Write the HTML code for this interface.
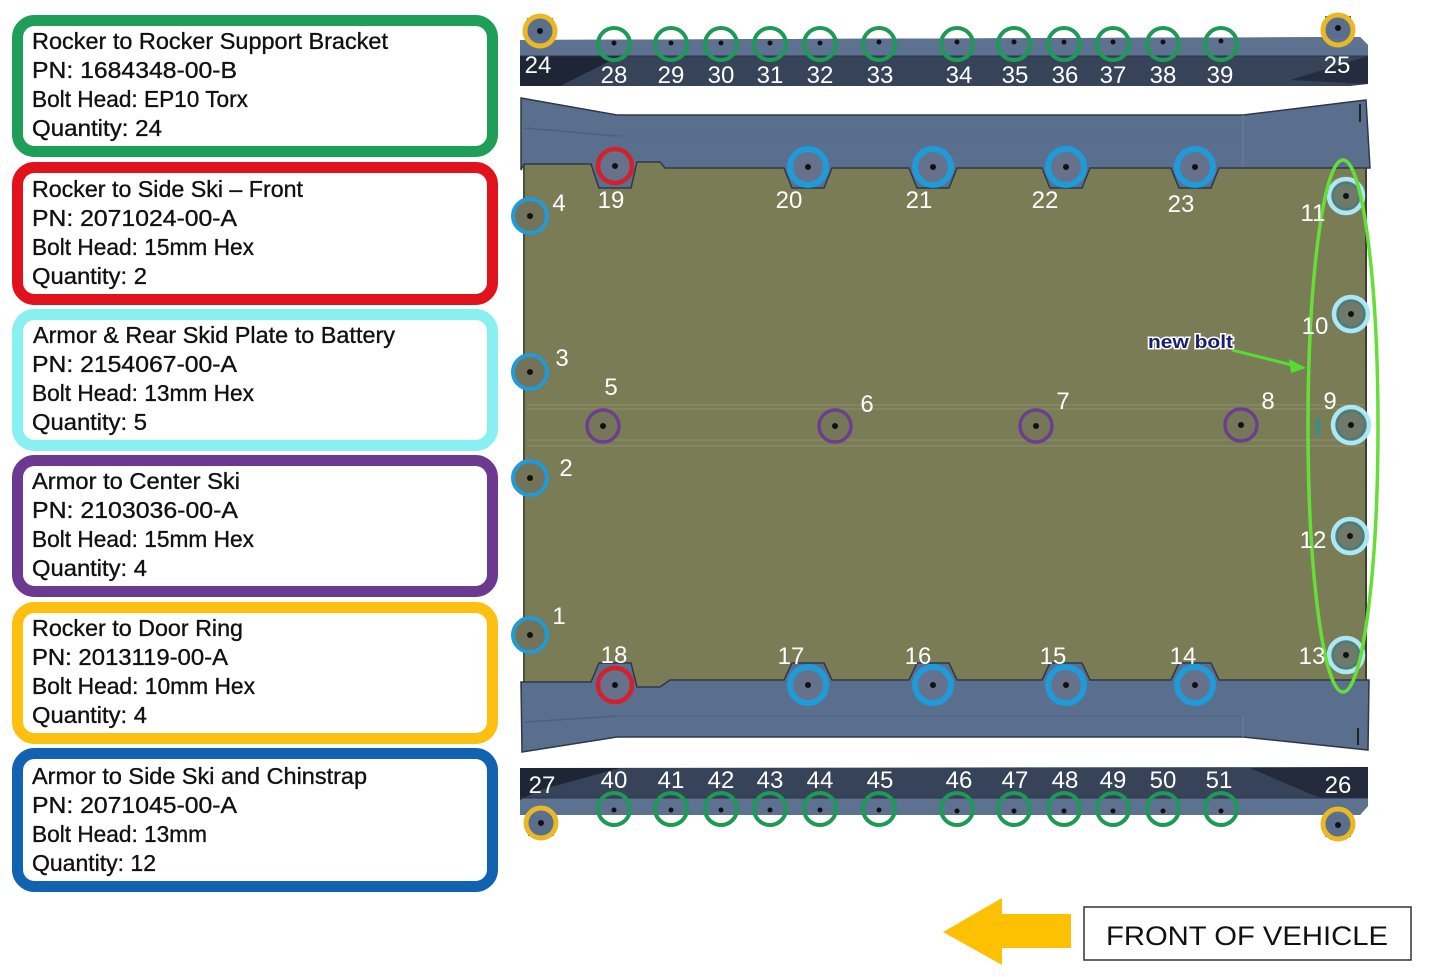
<!DOCTYPE html>
<html><head><meta charset="utf-8">
<style>
html,body{margin:0;padding:0;background:#fff;}
svg{display:block;}
.lg{font-family:"Liberation Sans",Arial,sans-serif;font-size:23px;fill:#111;stroke:#111;stroke-width:0.35;}
.n{font-family:"Liberation Sans",Arial,sans-serif;font-size:24px;fill:#fff;text-anchor:middle;}
</style></head>
<body>
<svg width="1444" height="977" viewBox="0 0 1444 977" xmlns="http://www.w3.org/2000/svg">
<rect width="1444" height="977" fill="#fff"/>

<!-- Legend boxes -->
<g fill="#fff" stroke-width="11">
<rect x="17.5" y="20.5" width="475" height="131" rx="17" stroke="#1f9e58"/>
<rect x="17.5" y="167.5" width="475" height="132" rx="17" stroke="#e0131c"/>
<rect x="17.5" y="314.5" width="475" height="131" rx="17" stroke="#88f0f0"/>
<rect x="17.5" y="460.5" width="475" height="131" rx="17" stroke="#6b3a90"/>
<rect x="17.5" y="607.5" width="475" height="131" rx="17" stroke="#fdc010"/>
<rect x="17.5" y="753.5" width="475" height="133" rx="17" stroke="#1262b2"/>
</g>
<g class="lg">
<text x="32" y="49" textLength="356" lengthAdjust="spacingAndGlyphs">Rocker to Rocker Support Bracket</text>
<text x="32" y="78" textLength="205" lengthAdjust="spacingAndGlyphs">PN: 1684348-00-B</text>
<text x="32" y="107" textLength="216" lengthAdjust="spacingAndGlyphs">Bolt Head: EP10 Torx</text>
<text x="32" y="136" textLength="130" lengthAdjust="spacingAndGlyphs">Quantity: 24</text>

<text x="32" y="197" textLength="271" lengthAdjust="spacingAndGlyphs">Rocker to Side Ski – Front</text>
<text x="32" y="226" textLength="205" lengthAdjust="spacingAndGlyphs">PN: 2071024-00-A</text>
<text x="32" y="255" textLength="222" lengthAdjust="spacingAndGlyphs">Bolt Head: 15mm Hex</text>
<text x="32" y="284" textLength="115" lengthAdjust="spacingAndGlyphs">Quantity: 2</text>

<text x="33" y="343" textLength="362" lengthAdjust="spacingAndGlyphs">Armor &amp; Rear Skid Plate to Battery</text>
<text x="32" y="372" textLength="205" lengthAdjust="spacingAndGlyphs">PN: 2154067-00-A</text>
<text x="32" y="401" textLength="222" lengthAdjust="spacingAndGlyphs">Bolt Head: 13mm Hex</text>
<text x="32" y="430" textLength="115" lengthAdjust="spacingAndGlyphs">Quantity: 5</text>

<text x="32" y="489" textLength="208" lengthAdjust="spacingAndGlyphs">Armor to Center Ski</text>
<text x="32" y="518" textLength="206" lengthAdjust="spacingAndGlyphs">PN: 2103036-00-A</text>
<text x="32" y="547" textLength="222" lengthAdjust="spacingAndGlyphs">Bolt Head: 15mm Hex</text>
<text x="32" y="576" textLength="115" lengthAdjust="spacingAndGlyphs">Quantity: 4</text>

<text x="32" y="636" textLength="211" lengthAdjust="spacingAndGlyphs">Rocker to Door Ring</text>
<text x="32" y="665" textLength="196" lengthAdjust="spacingAndGlyphs">PN: 2013119-00-A</text>
<text x="32" y="694" textLength="223" lengthAdjust="spacingAndGlyphs">Bolt Head: 10mm Hex</text>
<text x="32" y="723" textLength="115" lengthAdjust="spacingAndGlyphs">Quantity: 4</text>

<text x="32" y="784" textLength="335" lengthAdjust="spacingAndGlyphs">Armor to Side Ski and Chinstrap</text>
<text x="32" y="813" textLength="205" lengthAdjust="spacingAndGlyphs">PN: 2071045-00-A</text>
<text x="32" y="842" textLength="175" lengthAdjust="spacingAndGlyphs">Bolt Head: 13mm</text>
<text x="32" y="871" textLength="124" lengthAdjust="spacingAndGlyphs">Quantity: 12</text>
</g>

<!-- Top rail -->
<rect x="527" y="18" width="26" height="26" fill="#5a6e8e"/>
<rect x="1325" y="16" width="26" height="26" fill="#5a6e8e"/>
<polygon points="520,40 1360,37 1368,45 1368,84 1350,86 520,86" fill="#364359"/>
<polygon points="520,40 1360,37 1368,45 1368,56 520,56" fill="#5d7190"/>
<polygon points="520,56 620,56 560,86 520,86" fill="#1e2636"/>
<polygon points="1368,56 1290,80 1368,84" fill="#242d40"/>
<line x1="520" y1="56" x2="1368" y2="56" stroke="#2b3447" stroke-width="1"/>

<!-- Bottom rail -->
<rect x="528" y="810" width="26" height="26" fill="#5a6e8e"/>
<rect x="1325" y="811" width="26" height="26" fill="#5a6e8e"/>
<polygon points="520,768 1368,767 1368,806 1360,815 520,815" fill="#364359"/>
<polygon points="520,798 1368,798 1368,806 1360,815 520,815" fill="#5d7190"/>
<polygon points="520,768 620,768 540,790 520,800" fill="#1e2636"/>
<polygon points="1250,768 1368,767 1368,798 1320,798" fill="#222a3c"/>
<line x1="520" y1="798" x2="1368" y2="798" stroke="#2b3447" stroke-width="1"/>

<!-- Main plate -->
<rect x="524" y="160" width="843" height="530" fill="#7a7c55"/>
<line x1="524" y1="160" x2="524" y2="690" stroke="#4e5038" stroke-width="2"/>
<line x1="1366" y1="160" x2="1366" y2="690" stroke="#3e4030" stroke-width="2"/>
<g stroke="#8a8c66" stroke-width="1.2" fill="none">
<line x1="527" y1="405" x2="1364" y2="405"/><line x1="527" y1="409" x2="1364" y2="409"/>
<line x1="527" y1="440" x2="1364" y2="440"/><line x1="527" y1="446" x2="1364" y2="446"/>
</g>
<!-- Top blue rocker -->
<path d="M521,98 L617,115 L1243,115 L1366,100 L1370,168
 L1219,168 L1211,188 L1179,188 L1171,168
 L1090,168 L1082,188 L1050,188 L1042,168
 L957,168 L949,188 L917,188 L909,168
 L832,168 L824,188 L792,188 L784,168
 L665,168 L660,162 L637,162 L631,188 L599,188 L591,164 L524,164 L521,170 Z" fill="#5a6e8e" stroke="#2e3848" stroke-width="1.5"/>
<line x1="525" y1="128" x2="617" y2="136" stroke="#4c5f7e" stroke-width="1.5"/>
<line x1="617" y1="136" x2="1243" y2="136" stroke="#52658a" stroke-width="1"/>
<line x1="1243" y1="115" x2="1243" y2="166" stroke="#6d80a0" stroke-width="1"/>
<line x1="1360" y1="104" x2="1360" y2="122" stroke="#222" stroke-width="2"/>
<!-- Bottom blue rocker -->
<path d="M521,682 L591,682 L599,663 L631,663 L637,687 L660,687 L670,680
 L784,680 L792,663 L824,663 L832,680
 L909,680 L917,663 L949,663 L957,680
 L1042,680 L1050,663 L1082,663 L1090,680
 L1171,680 L1179,663 L1211,663 L1219,680
 L1369,680 L1368,750 L1243,737 L617,737 L522,752 Z" fill="#5a6e8e" stroke="#2e3848" stroke-width="1.5"/>
<line x1="525" y1="722" x2="617" y2="716" stroke="#4c5f7e" stroke-width="1.5"/>
<line x1="617" y1="716" x2="1243" y2="716" stroke="#52658a" stroke-width="1"/>
<line x1="1243" y1="716" x2="1243" y2="737" stroke="#6d80a0" stroke-width="1"/>
<line x1="1358" y1="728" x2="1358" y2="745" stroke="#222" stroke-width="2"/>

<!-- Yellow rocker-to-door-ring circles -->
<g fill="none" stroke="#eab822" stroke-width="5">
<circle cx="540" cy="31" r="15"/><circle cx="1338" cy="30" r="15"/>
<circle cx="541" cy="823" r="15"/><circle cx="1338" cy="824" r="15"/>
</g>
<g fill="#111"><circle cx="540" cy="31" r="3"/><circle cx="1338" cy="28" r="3"/><circle cx="541" cy="823" r="3"/><circle cx="1338" cy="825" r="3"/></g>

<!-- Green rail circles -->
<g fill="none" stroke="#1d9a55" stroke-width="4">
<circle cx="614" cy="44" r="16"/><circle cx="671" cy="44" r="16"/><circle cx="721" cy="44" r="16"/><circle cx="770" cy="44" r="16"/><circle cx="820" cy="44" r="16"/><circle cx="879" cy="44" r="16"/>
<circle cx="957" cy="44" r="16"/><circle cx="1014" cy="44" r="16"/><circle cx="1064" cy="44" r="16"/><circle cx="1113" cy="44" r="16"/><circle cx="1163" cy="44" r="16"/><circle cx="1221" cy="44" r="16"/>
<circle cx="614" cy="809" r="16"/><circle cx="671" cy="809" r="16"/><circle cx="721" cy="809" r="16"/><circle cx="770" cy="809" r="16"/><circle cx="820" cy="809" r="16"/><circle cx="879" cy="809" r="16"/>
<circle cx="957" cy="809" r="16"/><circle cx="1014" cy="809" r="16"/><circle cx="1064" cy="809" r="16"/><circle cx="1113" cy="809" r="16"/><circle cx="1163" cy="809" r="16"/><circle cx="1221" cy="809" r="16"/>
</g>
<g fill="#111">
<circle cx="614" cy="43" r="2.5"/><circle cx="671" cy="43" r="2.5"/><circle cx="721" cy="43" r="2.5"/><circle cx="770" cy="43" r="2.5"/><circle cx="820" cy="43" r="2.5"/><circle cx="879" cy="42" r="2.5"/>
<circle cx="957" cy="42" r="2.5"/><circle cx="1014" cy="42" r="2.5"/><circle cx="1064" cy="42" r="2.5"/><circle cx="1113" cy="42" r="2.5"/><circle cx="1163" cy="42" r="2.5"/><circle cx="1221" cy="41" r="2.5"/>
<circle cx="614" cy="810" r="2.5"/><circle cx="671" cy="810" r="2.5"/><circle cx="721" cy="810" r="2.5"/><circle cx="770" cy="810" r="2.5"/><circle cx="820" cy="810" r="2.5"/><circle cx="879" cy="810" r="2.5"/>
<circle cx="957" cy="811" r="2.5"/><circle cx="1014" cy="811" r="2.5"/><circle cx="1064" cy="811" r="2.5"/><circle cx="1113" cy="811" r="2.5"/><circle cx="1163" cy="811" r="2.5"/><circle cx="1221" cy="811" r="2.5"/>
</g>

<!-- Blue bolts (top/bottom) -->
<g fill="#66728c" stroke="#1e9bd8" stroke-width="6">
<circle cx="808" cy="167" r="18"/><circle cx="933" cy="167" r="18"/><circle cx="1066" cy="167" r="18"/><circle cx="1195" cy="167" r="18"/>
<circle cx="808" cy="685" r="18"/><circle cx="933" cy="685" r="18"/><circle cx="1066" cy="685" r="18"/><circle cx="1195" cy="685" r="18"/>
</g>
<!-- Left blue bolts -->
<g fill="#737359" stroke="#1e9bd8" stroke-width="4">
<circle cx="530" cy="216" r="17"/><circle cx="530" cy="372" r="17"/><circle cx="530" cy="478" r="17"/><circle cx="530" cy="635" r="17"/>
</g>
<!-- Red bolts -->
<g fill="#66728c" stroke="#d3202b" stroke-width="4.5">
<circle cx="615" cy="166" r="17"/><circle cx="615" cy="685" r="17"/>
</g>
<!-- Purple bolts -->
<g fill="#767758" stroke="#6c3e90" stroke-width="3.5">
<circle cx="603" cy="426" r="16"/><circle cx="835" cy="426" r="16"/><circle cx="1036" cy="426" r="16"/><circle cx="1241" cy="425" r="16"/>
</g>
<!-- Light cyan bolts -->
<g fill="#6f7a6a" stroke="#a9e8f4" stroke-width="4.5">
<circle cx="1346" cy="196" r="17"/><circle cx="1351" cy="314" r="17"/><circle cx="1351" cy="425" r="18"/><circle cx="1350" cy="536" r="17"/><circle cx="1346" cy="655" r="17"/>
</g>
<g fill="none" stroke="#3a7f86" stroke-width="1.5">
<circle cx="1346" cy="196" r="13"/><circle cx="1351" cy="314" r="13"/><circle cx="1351" cy="425" r="14"/><circle cx="1350" cy="536" r="13"/><circle cx="1346" cy="655" r="13"/>
</g>
<rect x="1316" y="418" width="4" height="18" rx="2" fill="#3a8f8a"/>
<g fill="#111">
<circle cx="808" cy="167" r="3"/><circle cx="933" cy="167" r="3"/><circle cx="1066" cy="167" r="3"/><circle cx="1195" cy="167" r="3"/>
<circle cx="808" cy="685" r="3"/><circle cx="933" cy="685" r="3"/><circle cx="1066" cy="685" r="3"/><circle cx="1195" cy="685" r="3"/>
<circle cx="530" cy="216" r="3"/><circle cx="530" cy="372" r="3"/><circle cx="530" cy="478" r="3"/><circle cx="530" cy="635" r="3"/>
<circle cx="615" cy="166" r="3"/><circle cx="615" cy="685" r="3"/>
<circle cx="603" cy="426" r="3"/><circle cx="835" cy="426" r="3"/><circle cx="1036" cy="426" r="3"/><circle cx="1241" cy="425" r="3"/>
<circle cx="1346" cy="196" r="3"/><circle cx="1351" cy="314" r="3"/><circle cx="1351" cy="425" r="3"/><circle cx="1350" cy="536" r="3"/><circle cx="1346" cy="655" r="3"/>
</g>

<!-- Green ellipse & new bolt callout -->
<ellipse cx="1343" cy="426" rx="35" ry="266" fill="none" stroke="#66de38" stroke-width="3.5"/>
<line x1="1232" y1="350" x2="1296" y2="366" stroke="#55dd33" stroke-width="3"/>
<polygon points="1306,368 1289,359 1291,373" fill="#55dd33"/>
<text x="1148" y="348" font-family="'Liberation Sans',Arial,sans-serif" font-weight="bold" font-size="18" fill="#1a1f6c" stroke="#fff" stroke-width="3" paint-order="stroke" textLength="85" lengthAdjust="spacingAndGlyphs">new bolt</text>

<!-- Number labels -->
<g class="n">
<text x="538" y="73">24</text><text x="1337" y="73">25</text>
<text x="614" y="83">28</text><text x="671" y="83">29</text><text x="721" y="83">30</text><text x="770" y="83">31</text><text x="820" y="83">32</text><text x="880" y="83">33</text>
<text x="959" y="83">34</text><text x="1015" y="83">35</text><text x="1065" y="83">36</text><text x="1113" y="83">37</text><text x="1163" y="83">38</text><text x="1220" y="83">39</text>
<text x="542" y="793">27</text><text x="1338" y="793">26</text>
<text x="614" y="788">40</text><text x="671" y="788">41</text><text x="721" y="788">42</text><text x="770" y="788">43</text><text x="820" y="788">44</text><text x="880" y="788">45</text>
<text x="959" y="788">46</text><text x="1015" y="788">47</text><text x="1065" y="788">48</text><text x="1113" y="788">49</text><text x="1163" y="788">50</text><text x="1219" y="788">51</text>
<text x="611" y="208">19</text><text x="789" y="208">20</text><text x="919" y="208">21</text><text x="1045" y="208">22</text><text x="1181" y="212">23</text>
<text x="559" y="211">4</text><text x="562" y="366">3</text><text x="566" y="476">2</text><text x="559" y="624">1</text>
<text x="611" y="395">5</text><text x="867" y="412">6</text><text x="1063" y="409">7</text><text x="1268" y="409">8</text><text x="1330" y="409">9</text>
<text x="1313" y="221">11</text><text x="1315" y="334">10</text><text x="1313" y="548">12</text><text x="1312" y="664">13</text>
<text x="614" y="663">18</text><text x="791" y="664">17</text><text x="918" y="664">16</text><text x="1053" y="664">15</text><text x="1183" y="664">14</text>
</g>

<!-- Front of vehicle -->
<polygon points="943,932 1002,898 1002,914 1071,914 1071,948 1002,948 1002,965" fill="#fec003"/>
<rect x="1084" y="907" width="327" height="53" fill="#fff" stroke="#333" stroke-width="1.5"/>
<text x="1106" y="945" font-family="'Liberation Sans',Arial,sans-serif" font-size="27" fill="#111" textLength="282" lengthAdjust="spacingAndGlyphs">FRONT OF VEHICLE</text>
</svg>
</body></html>
